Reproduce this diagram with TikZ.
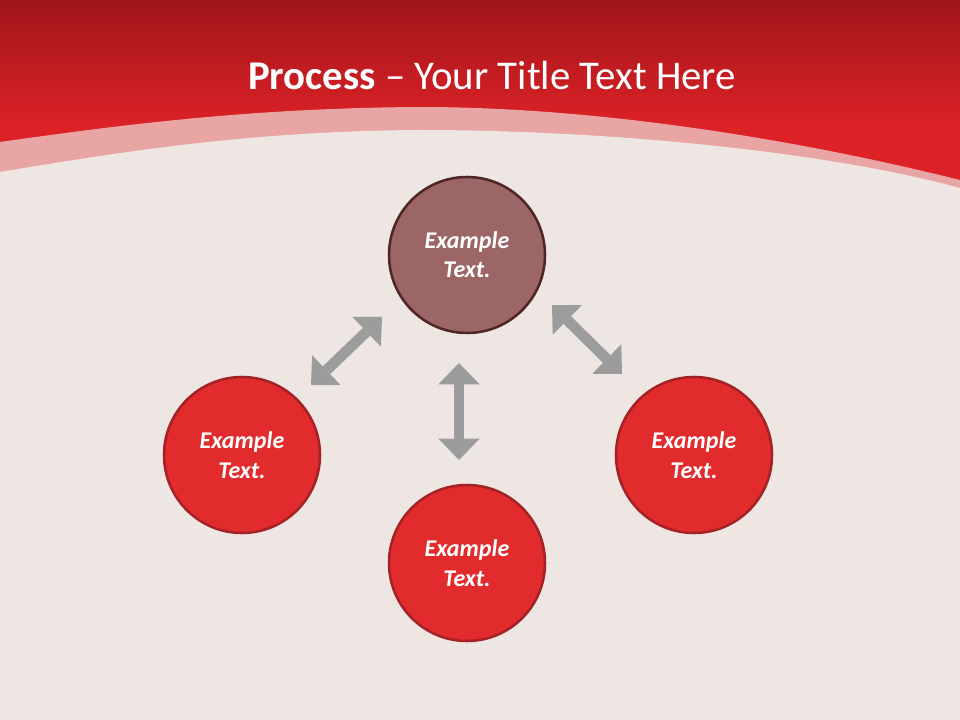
\documentclass[tikz,border=0pt]{standalone}
\usepackage{fontspec}
\setmainfont{Carlito}
\usetikzlibrary{arrows.meta}
\definecolor{paper}{HTML}{EEE6E2}
\definecolor{redtop}{HTML}{A0151A}
\definecolor{redbot}{HTML}{DC2227}
\definecolor{band}{HTML}{E9A4A4}
\definecolor{topfill}{HTML}{9D6666}
\definecolor{topline}{HTML}{4F2526}
\definecolor{redfill}{HTML}{E12B2D}
\definecolor{redline}{HTML}{A42226}
\definecolor{arrgray}{HTML}{9C9C9C}
\tikzset{
  bubble/.style={circle, minimum size=117pt, inner sep=0pt, line width=1.9pt,
    text=white, align=center, font=\fontsize{18}{22}\selectfont\bfseries\itshape},
  topbubble/.style={bubble, fill=topfill, draw=topline},
  redbubble/.style={bubble, fill=redfill, draw=redline},
  dblarrow/.style={draw=arrgray, line width=8pt,
    {Triangle[width=31pt,length=16pt,line width=0pt,fill=arrgray]}-{Triangle[width=31pt,length=16pt,line width=0pt,fill=arrgray]}}
}
\begin{document}
\begin{tikzpicture}[x=0.75pt,y=-0.75pt]
\useasboundingbox (0,0) rectangle (960,720);
\fill[paper] (0,0) rectangle (960,720);
\fill[redbot] (0,125) rectangle (960,200);
\shade[top color=redtop, bottom color=redbot] (0,0) rectangle (960,126);
\fill[band] (0,142) .. controls (120,125) and (250,108) .. (420,107)
  .. controls (600,107) and (800,140) .. (960,180) -- (960,720) -- (0,720) -- cycle;
\fill[paper] (0,172) .. controls (120,152) and (250,131) .. (420,130)
  .. controls (600,130) and (820,150) .. (960,188) -- (960,720) -- (0,720) -- cycle;
\node[text=white, font=\fontsize{30.6}{36}\selectfont] (title) at (492,75)
  {\textbf{Process} -- Your Title Text Here};
\node[topbubble] (top) at (467,255) {Example\\Text.};
\node[redbubble] (left) at (242,455) {Example\\Text.};
\node[redbubble] (right) at (694,455) {Example\\Text.};
\node[redbubble] (bottom) at (467,563) {Example\\Text.};
\coordinate (a1) at (382,317);
\coordinate (a2) at (311,385);
\coordinate (b1) at (459,363);
\coordinate (b2) at (459,460);
\coordinate (c1) at (552,305);
\coordinate (c2) at (622,374);
\draw[dblarrow] (a1) -- (a2);
\draw[dblarrow] (b1) -- (b2);
\draw[dblarrow] (c1) -- (c2);
\end{tikzpicture}
\end{document}
